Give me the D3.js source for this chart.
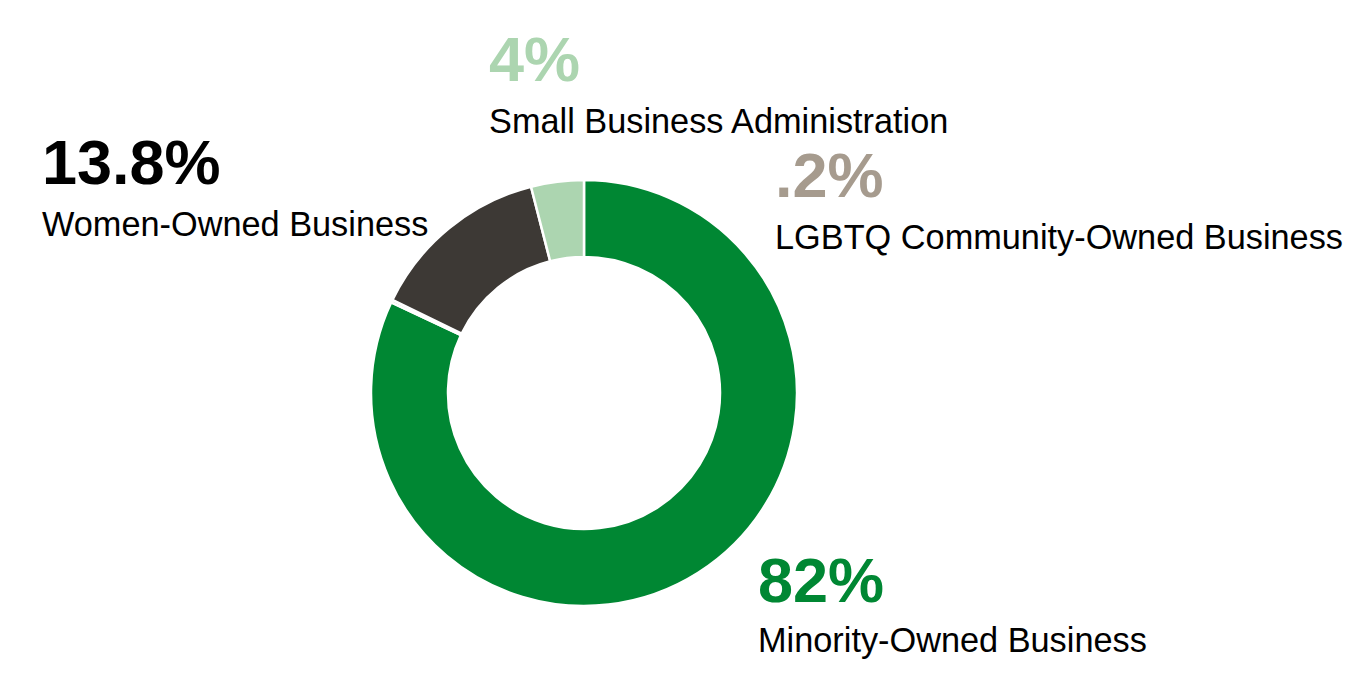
<!DOCTYPE html>
<html><head><meta charset="utf-8">
<script src="https://cdn.jsdelivr.net/npm/d3@7"></script>
<style>body{margin:0;background:#fff}svg{display:block}</style>
</head><body>
<svg id="c" width="1357" height="687"></svg>
<script>
const categories = ["Minority-Owned Business","LGBTQ Community-Owned Business","Women-Owned Business","Small Business Administration"];
const values = [82, 0.2, 13.8, 4];
const valueLabels = ["82%", ".2%", "13.8%", "4%"];
const colors = ["#008733", "#a69b8e", "#3d3935", "#acd5b0"];

const svg = d3.select("#c");
const cx = 584, cy = 393, rOut = 213, rIn = 136;
const pie = d3.pie().sort(null).value(d => d)(values);
const arc = d3.arc().innerRadius(rIn).outerRadius(rOut);
const g = svg.append("g").attr("transform", `translate(${cx},${cy})`);
g.selectAll("path").data(pie).join("path")
  .attr("d", arc).attr("fill", (d,i) => colors[i])
  .attr("stroke", "#fff").attr("stroke-width", 2.5);

// label positions (layout)
const labelPos = [
  {x: 758, yv: 602, yl: 652},
  {x: 775, yv: 197, yl: 249},
  {x: 42, yv: 184, yl: 236},
  {x: 489, yv: 81, yl: 133}
];
const numFont = "'Liberation Sans', Arial, sans-serif";
const lblFont = "'Liberation Sans', Arial, sans-serif";
categories.forEach((c, i) => {
  const p = labelPos[i];
  svg.append("text").attr("x", p.x).attr("y", p.yv)
    .attr("font-family", numFont).attr("font-weight", "bold").attr("font-size", 63)
    .attr("fill", i === 2 ? "#000" : colors[i]).text(valueLabels[i]);
  svg.append("text").attr("x", p.x).attr("y", p.yl)
    .attr("font-family", lblFont).attr("font-size", 34.3)
    .attr("fill", "#000").text(c);
});
</script>
</body></html>
